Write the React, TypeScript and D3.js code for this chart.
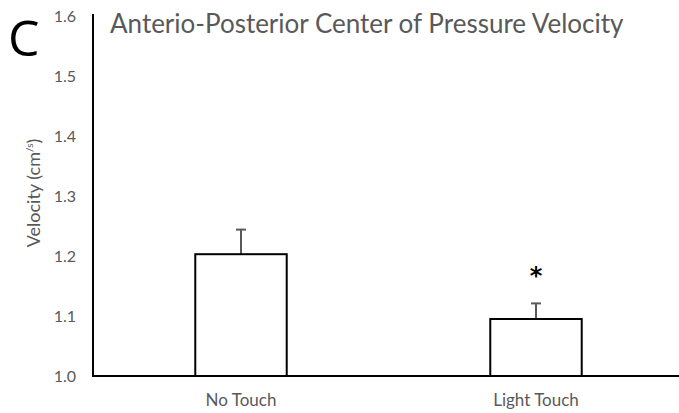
import React from "react";
import * as d3 from "d3";

const categories = ["No Touch", "Light Touch"];
const means = [1.203, 1.095];
const errors = [0.041, 0.026];
const significant = [false, true];
const yTicks = [1.0, 1.1, 1.2, 1.3, 1.4, 1.5, 1.6];
const title = "Anterio-Posterior Center of Pressure Velocity";
const panelLabel = "C";

const W = 679;
const H = 413;

export default function App() {
  const y = d3.scaleLinear().domain([1.0, 1.6]).range([376, 16]);
  const x = d3
    .scaleBand<string>()
    .domain(categories)
    .range([93.5, 683.5])
    .paddingInner(0.69)
    .paddingOuter(0.345);
  const bw = x.bandwidth();
  const gray = "#595959";
  const font = "Lato, 'Open Sans', sans-serif";

  return (
    <svg
      width={W}
      height={H}
      style={{ position: "absolute", left: 0, top: 0, background: "#fff" }}
      fontFamily={font}
    >
      <rect width={W} height={H} fill="#fff" />
      <text x={8} y={56} fontSize={50} fill="#000" fontFamily="'Open Sans', sans-serif">
        {panelLabel}
      </text>
      <text x={110} y={33} fontSize={26} fill={gray}>
        {title}
      </text>
      {yTicks.map((t) => (
        <text
          key={t}
          x={76}
          y={y(t)}
          dy="0.35em"
          textAnchor="end"
          fontSize={16}
          fill={gray}
        >
          {t.toFixed(1)}
        </text>
      ))}
      <text
        transform={`translate(40,${193}) rotate(-90)`}
        textAnchor="middle"
        fontSize={18}
        fill={gray}
      >
        Velocity (cm
        <tspan fontSize={10} dy={-7}>/</tspan>
        <tspan fontSize={10} dy={0}>s</tspan>
        <tspan dy={7}>)</tspan>
      </text>
      {categories.map((c, i) => {
        const x0 = x(c)!;
        const cx = x0 + bw / 2;
        return (
          <g key={c}>
            <line
              x1={cx}
              x2={cx}
              y1={y(means[i])}
              y2={y(means[i] + errors[i])}
              stroke={gray}
              strokeWidth={2}
            />
            <line
              x1={cx - 5}
              x2={cx + 5}
              y1={y(means[i] + errors[i])}
              y2={y(means[i] + errors[i])}
              stroke={gray}
              strokeWidth={2}
            />
            <rect
              x={x0}
              y={y(means[i])}
              width={bw}
              height={y(1.0) - y(means[i])}
              fill="#fff"
              stroke="#000"
              strokeWidth={2}
            />
            {significant[i] && (
              <text
                x={cx}
                y={y(means[i] + errors[i]) - 19}
                textAnchor="middle"
                fontSize={24}
                fontWeight="bold"
                fill="#000"
                fontFamily="'DejaVu Sans', sans-serif"
              >
                *
              </text>
            )}
            <text x={cx} y={406} textAnchor="middle" fontSize={17} fill={gray}>
              {c}
            </text>
          </g>
        );
      })}
      <line x1={93} x2={93} y1={y(1.6) - 2} y2={y(1.0)} stroke="#000" strokeWidth={2} />
      <line x1={92} x2={W} y1={y(1.0)} y2={y(1.0)} stroke="#000" strokeWidth={2} />
    </svg>
  );
}
